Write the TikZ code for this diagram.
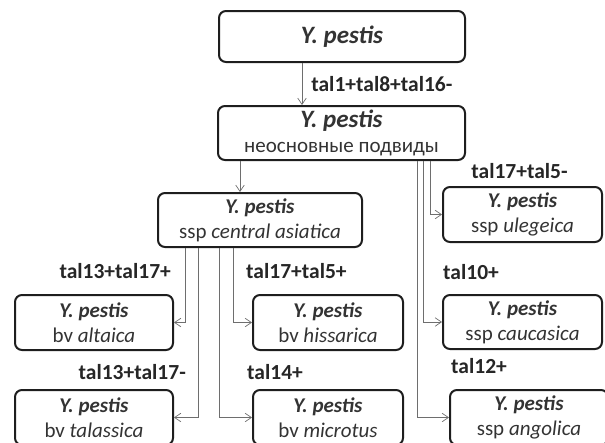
\documentclass[tikz,border=0pt]{standalone}
\usepackage{fontspec}
\setmainfont{Carlito}
\usepackage{tikz}
\usetikzlibrary{arrows.meta,positioning}
\definecolor{boxline}{RGB}{30,30,30}
\definecolor{conline}{RGB}{110,110,110}
\newcommand{\yp}{\textbf{\textit{Y. pestis}}}
\newcommand{\ypbig}{{\fontsize{25}{25}\selectfont\yp}}

\begin{document}
\begin{tikzpicture}[
      x=1pt, y=-1pt,
      taxon/.style={draw=boxline, line width=2pt, rounded corners=7pt, align=center, minimum height=54pt, inner sep=2pt, font=\fontsize{21}{25}\selectfont, text=black!80},
      lab/.style={font=\fontsize{21.5}{24}\selectfont\bfseries, text=black!85, inner sep=0pt},
      arr/.style={-{Straight Barb[length=2.2mm,width=3mm]}, line width=0.7pt, color=conline}
    ]
      \useasboundingbox (0,0) rectangle (605,442);

      % top of the tree
      \node[taxon, minimum width=246pt, minimum height=51pt] (root) at (342,36.5) {\ypbig};
      \node[taxon, minimum width=247pt] (minor) at (341.5,133) {\ypbig\\неосновные подвиды};

      % ssp central asiatica and its biovars
      \node[taxon, minimum width=204pt] (casia) at (260,220) {\yp\\ssp \textit{central asiatica}};
      \node[taxon, minimum width=158pt, minimum height=55pt] (alt) at (94,322.5) {\yp\\bv \textit{altaica}};
      \node[taxon, minimum width=158pt, minimum height=55pt] (tala) at (94,417.5) {\yp\\bv \textit{talassica}};
      \node[taxon, minimum width=150pt, minimum height=55pt] (hiss) at (328,322.5) {\yp\\bv \textit{hissarica}};
      \node[taxon, minimum width=150pt, minimum height=55pt] (micr) at (328,417.5) {\yp\\bv \textit{microtus}};

      % other subspecies
      \node[taxon, minimum width=159pt, minimum height=55pt] (uleg) at (522.5,214.5) {\yp\\ssp \textit{ulegeica}};
      \node[taxon, minimum width=159pt] (cauc) at (522.5,322) {\yp\\ssp \textit{caucasica}};
      \node[taxon, minimum width=158pt, minimum height=55pt] (ango) at (529,417.5) {\yp\\ssp \textit{angolica}};

      % labels
      \node[lab, anchor=east] (l-alt) at ([xshift=-3pt,yshift=23pt]alt.north east) {tal13+tal17+};
      \node[lab, anchor=east] (l-tala) at ([xshift=12pt,yshift=17pt]tala.north east) {tal13+tal17-};
      \node[lab, anchor=west] (l-hiss) at ([xshift=-6pt,yshift=23pt]hiss.north west) {tal17+tal5+};
      \node[lab, anchor=west] (l-micr) at ([xshift=-5pt,yshift=17pt]micr.north west) {tal14+};
      \node[lab] (l-uleg) at ([xshift=-3pt,yshift=15pt]uleg.north) {tal17+tal5-};
      \node[lab, anchor=west] (l-cauc) at ([xshift=1pt,yshift=22pt]cauc.north west) {tal10+};
      \node[lab, anchor=west] (l-ango) at ([xshift=2pt,yshift=23pt]ango.north west) {tal12+};

      % connectors
      \draw[arr] ([xshift=-40pt]root.south) -- node[lab, right=9pt] {tal1+tal8+tal16-} ([xshift=-40pt]root.south |- minor.north);
      \draw[arr] ([xshift=-20pt]casia.north |- minor.south) -- ([xshift=-20pt]casia.north);
      \draw[arr] ([xshift=-75pt]casia.south) |- (alt.east);
      \draw[arr] ([xshift=-61.5pt]casia.south) |- (tala.east);
      \draw[arr] ([xshift=-41pt]casia.south) |- (micr.west);
      \draw[arr] ([xshift=-27pt]casia.south) |- (hiss.west);
      \draw[arr] ([xshift=88.5pt]minor.south) |- (uleg.west);
      \draw[arr] ([xshift=81.5pt]minor.south) |- (cauc.west);
      \draw[arr] ([xshift=75.5pt]minor.south) |- (ango.west);
    \end{tikzpicture}
\end{document}
